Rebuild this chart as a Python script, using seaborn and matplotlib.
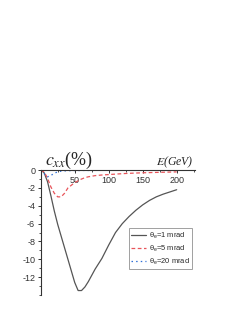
import numpy as np
import pandas as pd
import seaborn as sns
import matplotlib
matplotlib.use("Agg")
import matplotlib.pyplot as plt
from matplotlib.ticker import MultipleLocator

# values
energy = [0, 5, 10, 15, 20, 25, 30, 35, 40, 45, 50, 55, 60, 65, 70,
          80, 90, 100, 110, 120, 130, 140, 150, 160, 170, 180, 190, 200]
cxx_1mrad = [0, -0.3, -1.3, -2.9, -4.6, -6.1, -7.4, -8.7, -10.0, -11.3, -12.6, -13.5,
             -13.5, -13.1, -12.5, -11.1, -9.9, -8.4, -7.0, -6.0, -5.2, -4.5,
             -3.9, -3.4, -3.0, -2.7, -2.45, -2.2]
cxx_5mrad = [0, -0.2, -0.9, -1.9, -2.6, -3.0, -3.0, -2.6, -2.0, -1.7, -1.4, -1.2,
             -1.0, -0.85, -0.75, -0.62, -0.55, -0.5, -0.45, -0.4, -0.36, -0.33,
             -0.3, -0.28, -0.26, -0.24, -0.22, -0.2]
cxx_20mrad = [0, -0.4, -0.75, -0.6, -0.35, -0.2, -0.12, -0.09, -0.07, -0.06, -0.05,
              -0.05, -0.04, -0.04, -0.04, -0.03, -0.03, -0.03, -0.03, -0.03, -0.02,
              -0.02, -0.02, -0.02, -0.02, -0.02, -0.02, -0.02]
labels = [r'$\mathregular{\theta_e}$=1 mrad', r'$\mathregular{\theta_e}$=5 mrad',
          r'$\mathregular{\theta_e}$=20 mrad']

df = pd.concat([
    pd.DataFrame({'E': energy, 'cxx': vals, 'theta': lab})
    for vals, lab in zip([cxx_1mrad, cxx_5mrad, cxx_20mrad], labels)
])

sns.set_theme(style='ticks')
plt.rcParams['font.family'] = ['Liberation Sans', 'DejaVu Sans']
plt.rcParams['mathtext.fontset'] = 'stix'
plt.rcParams['axes.unicode_minus'] = False

fig = plt.figure(figsize=(2.5, 3.24), dpi=100)
ax = fig.add_axes([0.163, 0.0895, 0.617, 0.3855])

palette = {labels[0]: '#555555', labels[1]: '#e8545a', labels[2]: '#2f6fd6'}
dashes = {labels[0]: '', labels[1]: (3, 2), labels[2]: (1.2, 2.5)}
sns.lineplot(data=df, x='E', y='cxx', hue='theta', style='theta',
             palette=palette, dashes=dashes, linewidth=0.9, ax=ax)

ax.set_xlim(0, 227)
ax.set_ylim(-14, 0)
ax.spines['bottom'].set_position(('data', 0))
ax.spines['top'].set_visible(False)
ax.spines['right'].set_visible(False)
for s in ['bottom', 'left']:
    ax.spines[s].set_linewidth(0.8)
    ax.spines[s].set_color('#333333')

ax.set_xticks([50, 100, 150, 200])
ax.xaxis.set_minor_locator(MultipleLocator(25))
ax.set_yticks([0, -2, -4, -6, -8, -10, -12])
ax.yaxis.set_minor_locator(MultipleLocator(1))
ax.tick_params(axis='both', which='major', labelsize=6.5, length=2.5, width=0.7,
               pad=1.5, colors='#333333')
ax.tick_params(axis='both', which='minor', length=1.5, width=0.6, colors='#333333')
ax.set_xlabel('')
ax.set_ylabel('')

fig.text(0.18, 0.49, r'$c_{xx}$(%)', fontsize=13, family='Liberation Serif',
         ha='left', va='baseline')
fig.text(0.625, 0.49, r'$E$(GeV)', fontsize=8.5, family='Liberation Serif',
         style='italic', ha='left', va='baseline')

leg = ax.legend(loc='upper left', bbox_to_anchor=(0.57, 0.535), fontsize=5.4,
                frameon=True, fancybox=False, edgecolor='#888888',
                handlelength=2.0, borderpad=0.35, labelspacing=0.35,
                handletextpad=0.3, borderaxespad=0, title=None)
leg.get_frame().set_linewidth(0.7)

fig.savefig('out.png', dpi=100)
